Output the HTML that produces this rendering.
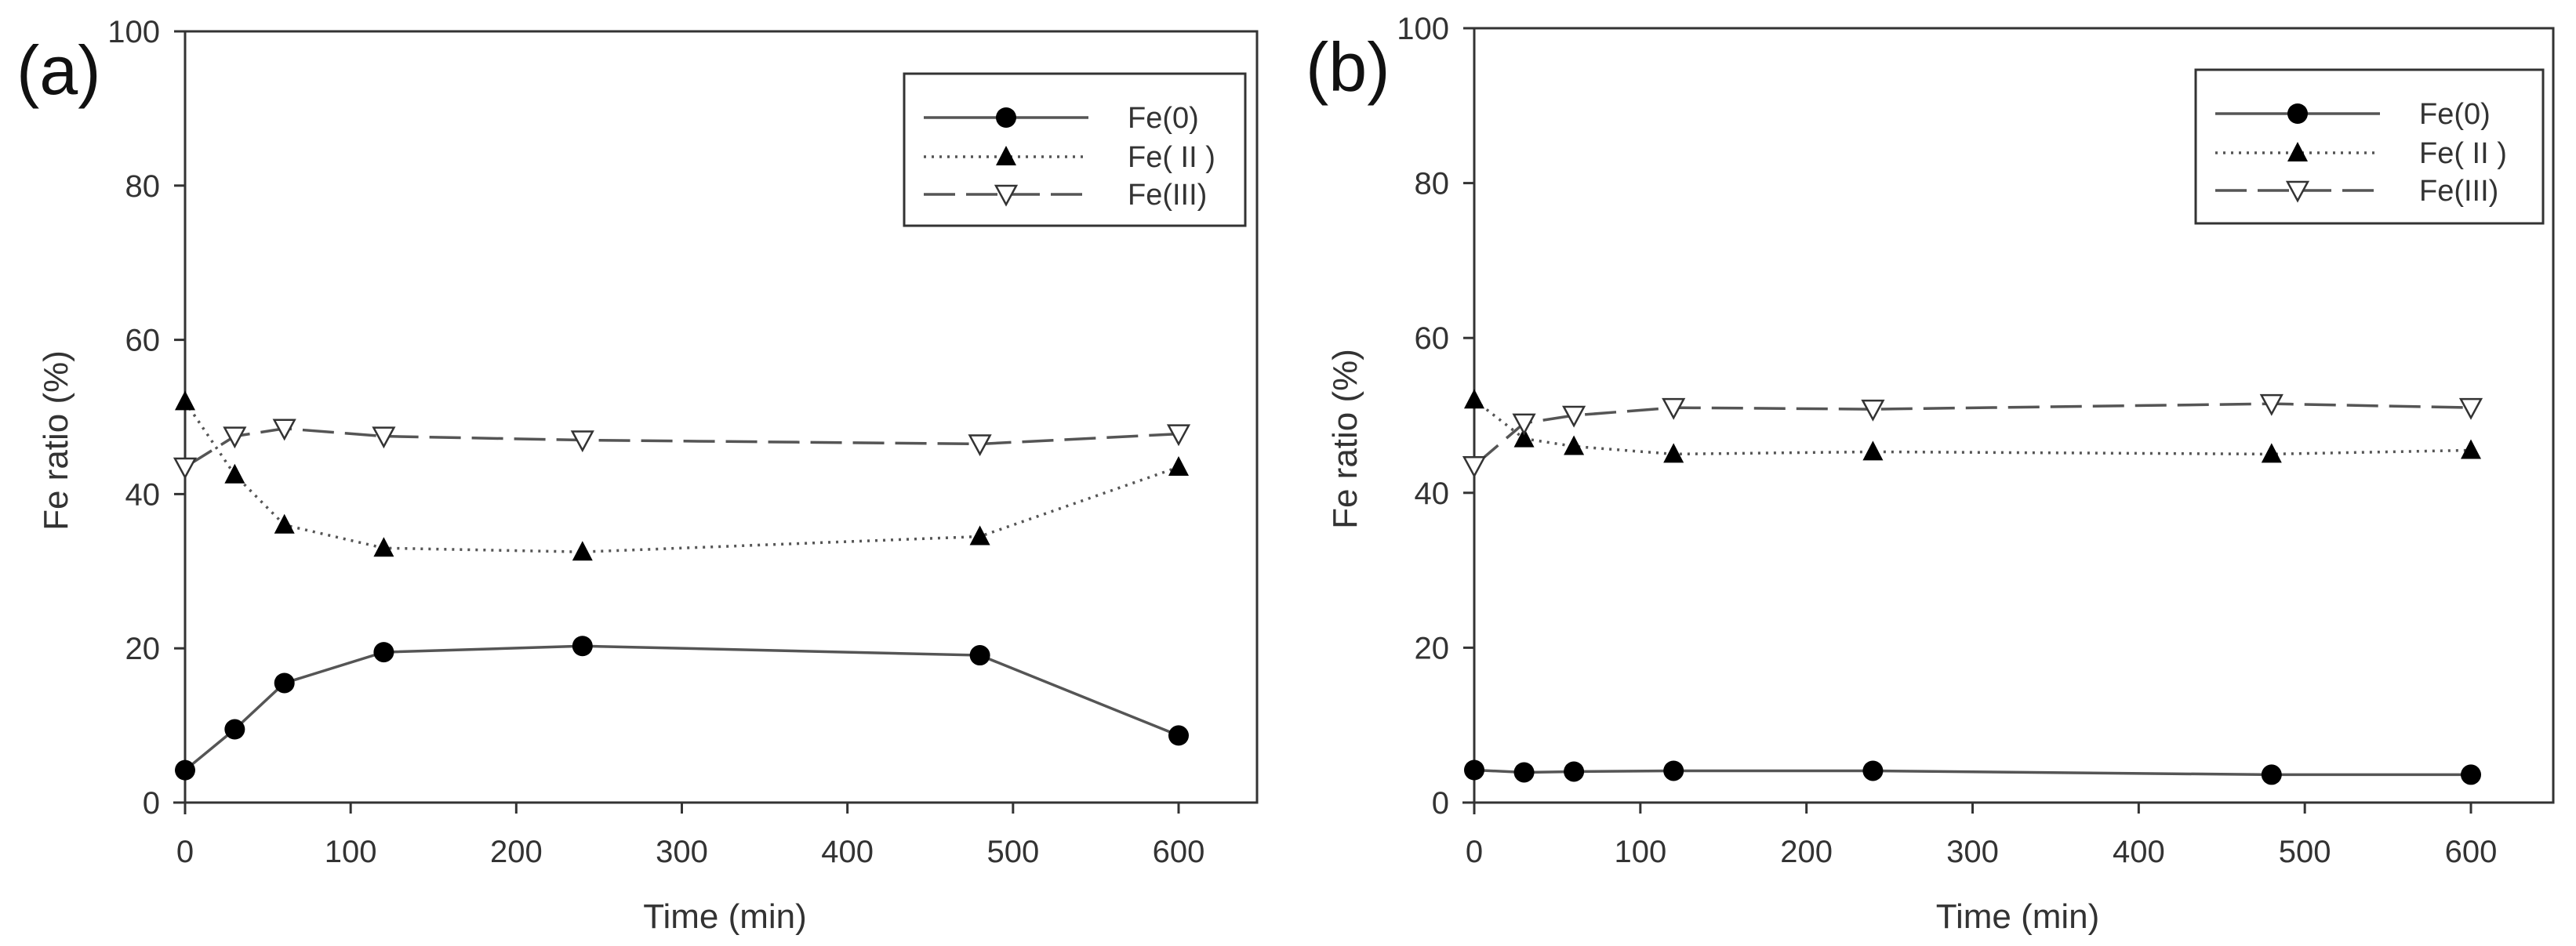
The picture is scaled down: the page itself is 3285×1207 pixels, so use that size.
<!DOCTYPE html>
<html><head><meta charset="utf-8">
<style>
html,body{margin:0;padding:0;background:#fff;}
svg{display:block;font-family:"Liberation Sans",sans-serif;}
</style></head>
<body>
<svg id="chart" width="3285" height="1207" viewBox="0 0 3285 1207" xmlns="http://www.w3.org/2000/svg"></svg>
<script>
const times = [0, 30, 60, 120, 240, 480, 600];
const aFe0 = [4.2, 9.5, 15.5, 19.5, 20.3, 19.1, 8.7];
const aFe2 = [52, 42.5, 36, 33, 32.5, 34.5, 43.5];
const aFe3 = [43.5, 47.5, 48.5, 47.5, 47, 46.5, 47.8];
const bFe0 = [4.2, 3.9, 4.0, 4.1, 4.1, 3.6, 3.6];
const bFe2 = [52, 47, 46, 45, 45.3, 45, 45.5];
const bFe3 = [43.5, 49, 50, 51, 50.8, 51.5, 51];
const xTicks = [0, 100, 200, 300, 400, 500, 600];
const yTicks = [0, 20, 40, 60, 80, 100];
const seriesNames = ["Fe(0)", "Fe( II )", "Fe(III)"];

const NS = "http://www.w3.org/2000/svg";
const svg = document.getElementById("chart");
function mk(tag, attrs, parent) {
  const e = document.createElementNS(NS, tag);
  for (const k in attrs) e.setAttribute(k, attrs[k]);
  (parent || svg).appendChild(e);
  return e;
}
const INK = "#333";

function marker(g, kind, x, y) {
  let m;
  if (kind === 0) m = mk("circle", {cx: x, cy: y, r: 13, fill: "#000"}, g);
  else if (kind === 1) m = mk("polygon", {points: `${x},${y-14} ${x-13},${y+11} ${x+13},${y+11}`, fill: "#000"}, g);
  else m = mk("polygon", {points: `${x-13},${y-11} ${x+13},${y-11} ${x},${y+13}`, fill: "#fff", stroke: "#333", "stroke-width": 2.5}, g);
  return m;
}

function panel(id, label, ox, rightX, x600, y0, y100, leg, data) {
  const g = mk("g", {});
  
  
  const X = t => ox + (x600 - ox) * t / 600;
  const Y = v => y0 - (y0 - y100) * v / 100;

  const frame = mk("rect", {x: ox, y: y100, width: rightX - ox, height: y0 - y100, fill: "none", stroke: INK, "stroke-width": 3}, g);
  
  

  const xa = mk("g", {}, g);
  
  
  mk("line", {x1: ox - 15, y1: y0, x2: rightX, y2: y0, stroke: INK, "stroke-width": 3}, xa);
  xTicks.forEach(t => {
    mk("line", {x1: X(t), y1: y0, x2: X(t), y2: y0 + 14, stroke: INK, "stroke-width": 3}, xa);
    const tl = mk("text", {x: X(t), y: y0 + 76, "font-size": 40, fill: INK, "text-anchor": "middle"}, xa);
    tl.textContent = t;
    
    
  });
  const xt = mk("text", {x: (ox + rightX) / 2 + 5, y: y0 + 160, "font-size": 44, fill: INK, "text-anchor": "middle"}, g);
  xt.textContent = "Time (min)";
  
  

  const ya = mk("g", {}, g);
  
  
  mk("line", {x1: ox, y1: y100, x2: ox, y2: y0 + 15, stroke: INK, "stroke-width": 3}, ya);
  yTicks.forEach(v => {
    mk("line", {x1: ox - 14, y1: Y(v), x2: ox, y2: Y(v), stroke: INK, "stroke-width": 3}, ya);
    const tl = mk("text", {x: ox - 32, y: Y(v) + 14, "font-size": 40, fill: INK, "text-anchor": "end"}, ya);
    tl.textContent = v;
    
    
  });
  const yt = mk("text", {x: 0, y: 0, "font-size": 44, fill: INK, "text-anchor": "middle", transform: `translate(${ox - 150},${(y0 + y100) / 2 + 30}) rotate(-90)`}, g);
  yt.textContent = "Fe ratio (%)";
  
  

  const pl = mk("text", {x: ox - 215, y: y100 + 80, "font-size": 88, fill: "#111"}, g);
  pl.textContent = label;
  
  

  const dashes = ["none", "3,7", "40,14"];
  data.forEach((vals, si) => {
    const sg = mk("g", {}, g);
    
    
    const pts = vals.map((v, i) => X(times[i]) + "," + Y(v)).join(" ");
    const line = mk("polyline", {points: pts, fill: "none", stroke: "#555", "stroke-width": 3.5, "stroke-dasharray": dashes[si]}, sg);
    
    
    vals.forEach((v, i) => {
      const m = marker(sg, si, X(times[i]), Y(v));
      
      
    });
  });

  const lg = mk("g", {}, g);
  
  
  mk("rect", {x: leg.x, y: leg.y, width: leg.w, height: leg.h, fill: "#fff", stroke: INK, "stroke-width": 3}, lg);
  const rows = [leg.y + 56, leg.y + 106, leg.y + 154];
  seriesNames.forEach((n, si) => {
    const eg = mk("g", {}, lg);
    
    
    mk("line", {x1: leg.x + 25, y1: rows[si], x2: leg.x + 235, y2: rows[si], stroke: "#555", "stroke-width": 3.5, "stroke-dasharray": dashes[si]}, eg);
    marker(eg, si, leg.x + 130, rows[si]);
    const t = mk("text", {x: leg.x + 285, y: rows[si] + 13, "font-size": 38, fill: INK}, eg);
    t.textContent = n;
  });
}

panel("a", "(a)", 236, 1603, 1503, 1024, 40, {x: 1153, y: 94, w: 435, h: 194}, [aFe0, aFe2, aFe3]);
panel("b", "(b)", 1880, 3256, 3151, 1024, 36, {x: 2800, y: 89, w: 443, h: 196}, [bFe0, bFe2, bFe3]);
</script>
</body></html>
